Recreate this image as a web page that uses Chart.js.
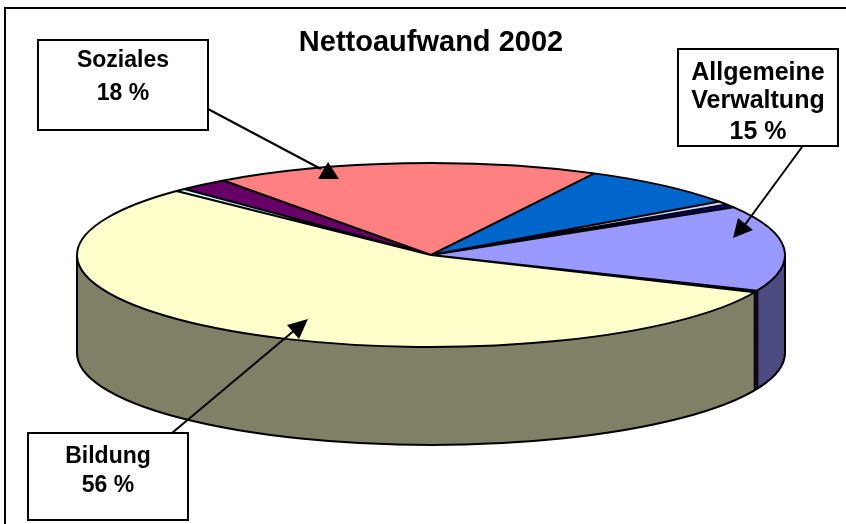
<!DOCTYPE html>
<html>
<head>
<meta charset="utf-8">
<title>Nettoaufwand 2002</title>
<script src="https://cdn.jsdelivr.net/npm/chart.js@4.4.0/dist/chart.umd.min.js"></script>
<style>
  html, body { margin: 0; padding: 0; background: #fff; }
  #wrap { width: 846px; height: 524px; }
</style>
</head>
<body>
<div id="wrap"><canvas id="chart" width="846" height="524"></canvas></div>
<script>
// Nettoaufwand 2002, share per function (percent)
const categories = ['Allgemeine Verwaltung', 'Öffentliche Sicherheit', 'Bildung', 'Kultur und Freizeit',
  'Gesundheit', 'Soziales', 'Verkehr', 'Umwelt und Raumordnung', 'Volkswirtschaft'];
const shares = [15.0, 0.3, 55.6, 0.5, 2.3, 17.6, 7.5, 0.6, 0.6];
const firstSliceAngle = 58.8; // degrees, clockwise from 12 o'clock

const topColors = ['#9999FF', '#993366', '#FFFFCC', '#CCFFFF', '#660066', '#FF8080', '#0066CC', '#CCCCFF', '#000080'];
const sideColors = ['#4C4C80', '#4D1A33', '#808066', '#668080', '#330033', '#804040', '#003366', '#666680', '#000040'];

// 3d look: where the top face sits on screen and how thick the disc is
const CX = 431, CY = 255, RX = 354, RY = 92, DEPTH = 98;
const FONT = '"Liberation Sans", Arial, sans-serif';

// callout boxes (slice index -> box, text baselines, leader line, arrow head)
const callouts = [
  { slice: 5, size: 23, box: [38, 40, 170, 90], baselines: [67, 100], from: [208, 109], to: [321, 169], head: [[328, 162], [318, 179], [339, 179]] },
  { slice: 0, size: 25, box: [678, 49, 160, 97], baselines: [80, 108, 139], from: [802, 147], to: [744, 226], head: [[733, 238], [738, 218], [753, 230]] },
  { slice: 2, size: 23, box: [28, 433, 160, 87], baselines: [463, 492], from: [172, 433], to: [296, 329], head: [[308, 319], [287, 325], [299, 339]] },
];

const total = shares.reduce((a, b) => a + b, 0);

function toScreen(ctx, arc) {
  ctx.translate(CX, CY);
  ctx.scale(RX / arc.outerRadius, RY / arc.outerRadius);
  ctx.translate(-arc.x, -arc.y);
}

// parts of [s, e] that lie on the front half (canvas angles 0..PI)
function frontSpans(s, e) {
  const spans = [];
  for (let k = -2; k <= 2; k++) {
    const lo = Math.max(s, 2 * Math.PI * k), hi = Math.min(e, 2 * Math.PI * k + Math.PI);
    if (hi > lo) spans.push([lo, hi]);
  }
  return spans;
}

const pie3d = {
  id: 'pie3d',
  beforeDraw(chart) {
    const ctx = chart.ctx;
    ctx.save();
    ctx.fillStyle = '#fff';
    ctx.fillRect(0, 0, chart.width, chart.height);
    ctx.strokeStyle = '#000';
    ctx.lineWidth = 2;
    ctx.strokeRect(5, 8, 900, 600);
    ctx.restore();
  },
  beforeDatasetsDraw(chart) {
    const ctx = chart.ctx;
    const arcs = chart.getDatasetMeta(0).data;
    const a0 = arcs[0], r = a0.outerRadius, dz = DEPTH * r / RY;
    ctx.save();
    toScreen(ctx, a0);
    arcs.forEach((a, i) => {
      frontSpans(a.startAngle, a.endAngle).forEach(([s, e]) => {
        ctx.beginPath();
        ctx.arc(a.x, a.y, r, s, e);
        ctx.arc(a.x, a.y + dz, r, e, s, true);
        ctx.closePath();
        ctx.fillStyle = sideColors[i];
        ctx.fill();
      });
    });
    // transform stays on so the library draws the top face as an ellipse
  },
  afterDatasetsDraw(chart) {
    const ctx = chart.ctx;
    ctx.restore();
    const arcs = chart.getDatasetMeta(0).data;
    const a0 = arcs[0], r = a0.outerRadius, dz = DEPTH * r / RY;
    const x = a0.x, y = a0.y;

    ctx.save();
    toScreen(ctx, a0);
    ctx.beginPath();
    arcs.forEach(a => {
      ctx.moveTo(x, y);
      ctx.arc(x, y, r, a.startAngle, a.endAngle);
      ctx.closePath();
    });
    // bottom rim and wall edges
    ctx.moveTo(x + r, y + dz);
    ctx.arc(x, y + dz, r, 0, Math.PI);
    const edges = [0, Math.PI];
    arcs.forEach(a => {
      const phi = ((a.startAngle % (2 * Math.PI)) + 2 * Math.PI) % (2 * Math.PI);
      if (phi > 0 && phi < Math.PI) edges.push(phi);
    });
    edges.forEach(phi => {
      ctx.moveTo(x + r * Math.cos(phi), y + r * Math.sin(phi));
      ctx.lineTo(x + r * Math.cos(phi), y + dz + r * Math.sin(phi));
    });
    ctx.restore();
    ctx.save();
    ctx.strokeStyle = '#000';
    ctx.lineWidth = 2;
    ctx.lineJoin = 'round';
    ctx.stroke();
    ctx.restore();
  },
  afterDraw(chart) {
    const ctx = chart.ctx;
    ctx.save();
    ctx.strokeStyle = '#000';
    ctx.fillStyle = '#000';
    ctx.lineWidth = 2;
    callouts.forEach(c => {
      ctx.beginPath();
      ctx.moveTo(c.from[0], c.from[1]);
      ctx.lineTo(c.to[0], c.to[1]);
      ctx.stroke();
      ctx.beginPath();
      ctx.moveTo(c.head[0][0], c.head[0][1]);
      ctx.lineTo(c.head[1][0], c.head[1][1]);
      ctx.lineTo(c.head[2][0], c.head[2][1]);
      ctx.closePath();
      ctx.fill();

      const [bx, by, bw, bh] = c.box;
      ctx.fillStyle = '#fff';
      ctx.fillRect(bx, by, bw, bh);
      ctx.strokeRect(bx, by, bw, bh);
      ctx.fillStyle = '#000';
      ctx.font = 'bold ' + c.size + 'px ' + FONT;
      ctx.textAlign = 'center';
      ctx.textBaseline = 'alphabetic';
      const pct = Math.round(shares[c.slice] / total * 100);
      const lines = categories[c.slice].split(' ').concat([pct + ' %']);
      lines.forEach((t, i) => ctx.fillText(t, bx + bw / 2, c.baselines[i]));
    });
    ctx.restore();
  }
};

new Chart(document.getElementById('chart'), {
  type: 'pie',
  data: {
    labels: categories,
    datasets: [{
      data: shares,
      backgroundColor: topColors,
      borderWidth: 0,
      clip: false
    }]
  },
  options: {
    responsive: false,
    animation: false,
    events: [],
    rotation: firstSliceAngle,
    layout: { padding: { left: 16 } },
    plugins: {
      legend: { display: false },
      tooltip: { enabled: false },
      title: {
        display: true,
        text: 'Nettoaufwand 2002',
        color: '#000',
        font: { family: FONT, size: 29, weight: 'bold' },
        padding: { top: 26, bottom: 0 }
      }
    }
  },
  plugins: [pie3d]
});
</script>
</body>
</html>
